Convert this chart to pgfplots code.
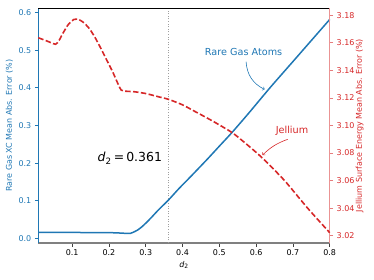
\documentclass[border=0pt]{standalone}
\usepackage{pgfplots}
\pgfplotsset{compat=1.18}
\usepackage{fontspec}
\setmainfont{DejaVu Sans}
\definecolor{tblue}{HTML}{1F77B4}
\definecolor{tred}{HTML}{D62728}
\pgfplotsset{
 common/.style={
  scale only axis, width=291.4bp, height=235bp,
  xmin=0.008, xmax=0.8,
  tick align=outside, major tick length=3.5bp,
  /pgf/number format/assume math mode=true,
  tick label style={font=\fontsize{8}{9.6}\selectfont},
  label style={font=\fontsize{8}{9.6}\selectfont},
  clip=false,
 }
}
\begin{document}
\begin{tikzpicture}
\begin{axis}[common,
  axis x line*=bottom, axis y line*=left,
  ymin=-0.0125, ymax=0.6125,
  xtick={0.1,0.2,0.3,0.4,0.5,0.6,0.7,0.8},
  xticklabel style={/pgf/number format/.cd, fixed, fixed zerofill, precision=1},
  ytick={0,0.1,0.2,0.3,0.4,0.5,0.6},
  yticklabel style={color=tblue, /pgf/number format/.cd, fixed, fixed zerofill, precision=1},
  x axis line style={draw=gray, line width=1.6bp},
  y axis line style={draw=tblue, line width=1bp},
  xtick style={color=black!75, line width=0.8bp},
  ytick style={color=tblue, line width=0.8bp},
  xlabel={\textit{d}\textsubscript{2}},
  xlabel style={at={(axis description cs:0.5,-0.094)}, anchor=center},
  ylabel={Rare Gas XC Mean Abs. Error (\%)},
  ylabel style={color=tblue, at={(axis description cs:-0.099,0.5)}, anchor=center, rotate=0},
]
\addplot[gray!75, line width=0.9bp, dash pattern=on 1bp off 1.6bp] coordinates {(0.361,-0.0125) (0.361,0.6125)};
\addplot[tblue, line width=1.5bp, smooth, tension=0.4] coordinates {
(0.008,0.0155) (0.1,0.0155) (0.2,0.015) (0.235,0.0138) (0.25,0.0128) (0.258,0.013)
(0.266,0.016) (0.278,0.022) (0.29,0.031) (0.302,0.042) (0.315,0.055) (0.335,0.076)
(0.362,0.102) (0.39,0.132) (0.422,0.164)
(0.467,0.210) (0.5,0.245) (0.535,0.282) (0.58,0.333) (0.64,0.403) (0.7,0.47)
(0.75,0.526) (0.8,0.582)};
\node[tblue, font=\fontsize{9.7}{11}\selectfont] at (axis cs:0.566,0.495) {Rare Gas Atoms};
\draw[tblue, line width=0.6bp, ->] (axis cs:0.5727,0.4697) to[bend right=30] (axis cs:0.623,0.396);
\node[tred, font=\fontsize{9.7}{11}\selectfont] at (axis cs:0.6975,0.2854) {Jellium};
\draw[tred, line width=0.6bp, ->] (axis cs:0.686,0.2633) to[bend right=12] (axis cs:0.6175,0.2215);
\node[font=\fontsize{12.5}{14}\selectfont] at (axis cs:0.2568,0.2128) {\textit{d}\textsubscript{2}\,=\,0.361};
\end{axis}
\begin{axis}[common,
  axis x line*=top, axis y line*=right,
  xtick=\empty,
  ymin=3.0147, ymax=3.1853,
  ytick={3.02,3.04,3.06,3.08,3.10,3.12,3.14,3.16,3.18},
  yticklabel style={color=tred, /pgf/number format/.cd, fixed, fixed zerofill, precision=2},
  x axis line style={draw=black, line width=0.8bp},
  y axis line style={draw=tred!50, line width=1bp},
  ytick style={color=tred!60, line width=0.8bp},
  ylabel={Jellium Surface Energy Mean Abs. Error (\%)},
  ylabel style={color=tred, at={(axis description cs:1.103,0.5)}, anchor=center, rotate=0},
]
\addplot[tred, line width=1.6bp, dash pattern=on 5.5bp off 2.4bp, smooth, tension=0.4] coordinates {
(0.008,3.1637) (0.03,3.1615) (0.055,3.159) (0.065,3.162) (0.075,3.167) (0.09,3.1735)
(0.105,3.177) (0.115,3.1773) (0.13,3.175) (0.146,3.1706) (0.162,3.164) (0.178,3.156)
(0.195,3.147) (0.21,3.139) (0.225,3.130) (0.233,3.1258) (0.24,3.125) (0.269,3.1245)
(0.3,3.1232) (0.34,3.1205) (0.362,3.119) (0.4,3.115) (0.435,3.110) (0.48,3.1035)
(0.531,3.0955) (0.558,3.090) (0.613,3.0774) (0.676,3.0604) (0.74,3.040) (0.8,3.0222)};
\end{axis}
\pgfresetboundingbox
\path[use as bounding box] (-38.3bp,-37bp) rectangle (335.7bp,243bp);
\end{tikzpicture}
\end{document}
